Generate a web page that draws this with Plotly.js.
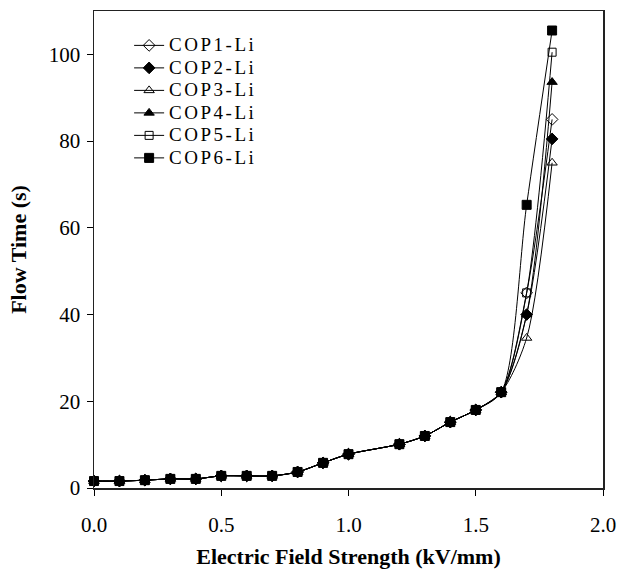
<!DOCTYPE html>
<html>
<head>
<meta charset="utf-8">
<script src="https://cdn.plot.ly/plotly-3.0.1.min.js"></script>
<style>html,body{margin:0;padding:0;background:#fff;}#chart{width:618px;height:573px;}</style>
</head>
<body>
<div id="chart"></div>
<script>
var xField = [0, 0.1, 0.2, 0.3, 0.4, 0.5, 0.6, 0.7, 0.8, 0.9, 1.0, 1.2, 1.3, 1.4, 1.5, 1.6, 1.7, 1.8];
var cop1 = [1.6, 1.6, 1.8, 2.1, 2.1, 2.8, 2.8, 2.8, 3.7, 5.8, 7.8, 10.1, 12.0, 15.2, 18.0, 22.1, 45, 85];
var cop2 = [1.6, 1.6, 1.8, 2.1, 2.1, 2.8, 2.8, 2.8, 3.7, 5.8, 7.8, 10.1, 12.0, 15.2, 18.0, 22.1, 40, 80.5];
var cop3 = [1.6, 1.6, 1.8, 2.1, 2.1, 2.8, 2.8, 2.8, 3.7, 5.8, 7.8, 10.1, 12.0, 15.2, 18.0, 22.1, 34.6, 75];
var cop4 = [1.6, 1.6, 1.8, 2.1, 2.1, 2.8, 2.8, 2.8, 3.7, 5.8, 7.8, 10.1, 12.0, 15.2, 18.0, 22.1, 40, 93.6];
var cop5 = [1.6, 1.6, 1.8, 2.1, 2.1, 2.8, 2.8, 2.8, 3.7, 5.8, 7.8, 10.1, 12.0, 15.2, 18.0, 22.1, 45, 100.5];
var cop6 = [1.6, 1.6, 1.8, 2.1, 2.1, 2.8, 2.8, 2.8, 3.7, 5.8, 7.8, 10.1, 12.0, 15.2, 18.0, 22.1, 65.3, 105.5];
var seriesNames = ["COP1-Li", "COP2-Li", "COP3-Li", "COP4-Li", "COP5-Li", "COP6-Li"];
var xTicks = [0, 0.5, 1.0, 1.5, 2.0];
var xTickLabels = ["0.0", "0.5", "1.0", "1.5", "2.0"];
var yTicks = [0, 20, 40, 60, 80, 100];

var allY = [cop1, cop2, cop3, cop4, cop5, cop6];
var symbols = ["diamond-open", "diamond", "triangle-up-open", "triangle-up", "square-open", "square"];
var sizes = [9, 9, 9, 9, 8, 9];

var traces = allY.map(function (ys, i) {
  return {
    x: xField, y: ys, type: "scatter", mode: "lines+markers",
    name: '<span style="font-size:19px;letter-spacing:2.5px">' + seriesNames[i] + '</span>',
    line: {color: "#000", width: 1, shape: "spline", smoothing: 0.8},
    marker: {symbol: symbols[i], size: sizes[i], color: "#000", line: {color: "#000", width: 1}},
    cliponaxis: false
  };
});

var serif = "Liberation Serif, Times New Roman, serif";
var layout = {
  width: 618, height: 573,
  margin: {l: 94, r: 15, t: 11, b: 85},
  paper_bgcolor: "#fff", plot_bgcolor: "#fff",
  showlegend: true,
  legend: {x: 0.069, y: 0.962, xanchor: "left", yanchor: "top",
           font: {family: serif, size: 15, color: "#000"}, bgcolor: "rgba(0,0,0,0)",
           tracegroupgap: 0, itemwidth: 30},
  xaxis: {
    range: [0, 2], tickvals: xTicks, ticktext: xTickLabels,
    ticks: "outside", ticklen: 6, tickcolor: "#000", showgrid: false, zeroline: false,
    showline: true, linecolor: "#222", linewidth: 1.5, mirror: true, ticklabelstandoff: 11,
    tickfont: {family: serif, size: 21, color: "#000"},
    title: {text: "<b>Electric Field Strength (kV/mm)</b>", font: {family: serif, size: 22, color: "#000"}, standoff: 13}
  },
  yaxis: {
    range: [0, 110], tickvals: yTicks,
    ticks: "outside", ticklen: 6, tickcolor: "#000", showgrid: false, zeroline: false,
    showline: true, linecolor: "#222", linewidth: 1.5, mirror: true, ticklabelstandoff: 2,
    tickfont: {family: serif, size: 21, color: "#000"},
    title: {text: "<b>Flow Time (s)</b>", font: {family: serif, size: 22, color: "#000"}, standoff: 16}
  }
};

Plotly.newPlot("chart", traces, layout, {displayModeBar: false, staticPlot: true});
</script>
</body>
</html>
